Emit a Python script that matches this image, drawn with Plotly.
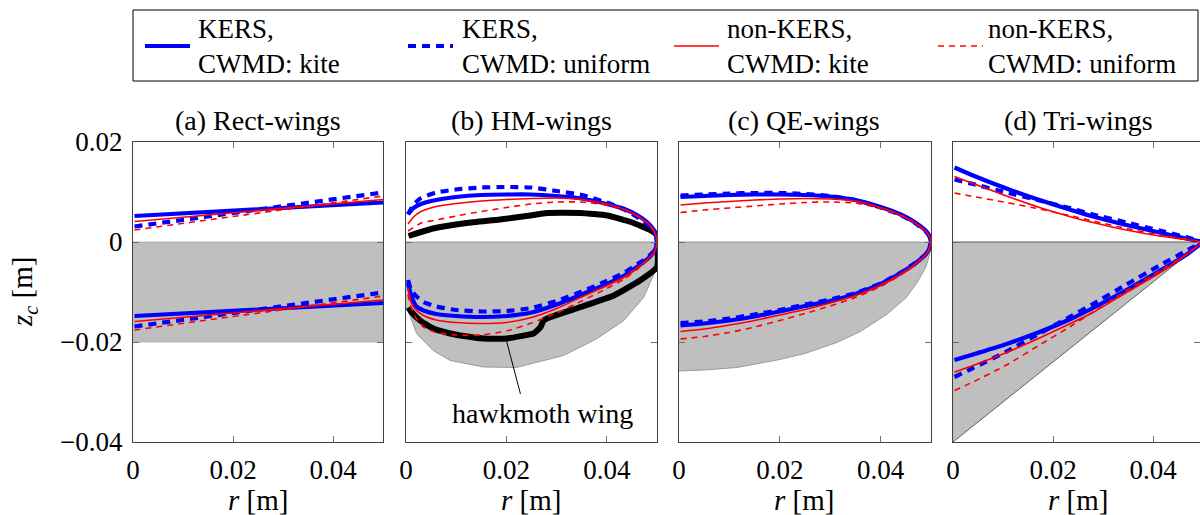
import plotly.graph_objects as go

# ---------------- data ----------------
TITLES = ["(a) Rect-wings", "(b) HM-wings", "(c) QE-wings", "(d) Tri-wings"]
SERIES = ["KERS,<br>CWMD: kite", "KERS,<br>CWMD: uniform", "non-KERS,<br>CWMD: kite", "non-KERS,<br>CWMD: uniform"]
X_TICKS = [0, 0.02, 0.04]
X_TICK_TEXT = ["0", "0.02", "0.04"]
Y_TICKS = [-0.04, -0.02, 0, 0.02]
Y_TICK_TEXT = ["\u22120.04", "\u22120.02", "0", "0.02"]

# (a) rectangular wing
RECT_WING_X = [0, 0.05, 0.05, 0]
RECT_WING_Y = [0, 0, -0.02, -0.02]
RECT_R = [0.0003, 0.05]
RECT_LE = [[0.0052, 0.0079], [0.0031, 0.0099], [0.0041, 0.0085], [0.0024, 0.0092]]
RECT_TE = [[-0.0148, -0.0122], [-0.0169, -0.0101], [-0.0159, -0.0116], [-0.0176, -0.0108]]

# (b) hawkmoth-like wing
HM_WING_X = [0, 0.05, 0.05, 0.0474, 0.0434, 0.0381, 0.0314, 0.0248, 0.022, 0.0154, 0.0088, 0.0054, 0.0021, 0.0004, 0]
HM_WING_Y = [0, 0, -0.005, -0.011, -0.0157, -0.0193, -0.0227, -0.0243, -0.0251, -0.025, -0.0237, -0.0217, -0.0183, -0.0137, -0.013]
HAWKMOTH_X = [0.0005, 0.0054, 0.0121, 0.0187, 0.0248, 0.0281, 0.0348, 0.0401, 0.0448, 0.0488, 0.05, 0.05,
              0.0466, 0.0414, 0.0348, 0.0288, 0.0274, 0.0268, 0.0258, 0.0254, 0.0201, 0.0155, 0.0108, 0.0088,
              0.0054, 0.0028, 0.0011, 0.0005]
HAWKMOTH_Y = [0.0012, 0.0027, 0.0038, 0.0045, 0.0053, 0.0058, 0.0058, 0.0053, 0.004, 0.0023, 0.0013, -0.005,
              -0.0077, -0.0107, -0.013, -0.015, -0.0157, -0.017, -0.018, -0.0183, -0.0193, -0.0193, -0.0187, -0.0183,
              -0.0173, -0.0157, -0.014, -0.0131]
HM_R_LE = [0.0004, 0.0015, 0.003, 0.006, 0.01, 0.015, 0.02, 0.025, 0.03, 0.035, 0.04, 0.0435, 0.046, 0.048, 0.0493, 0.0498, 0.05]
HM_LE = [
    [0.0056, 0.0068, 0.0076, 0.0084, 0.0090, 0.0094, 0.0095, 0.0095, 0.0092, 0.0087, 0.0076, 0.0066, 0.0054, 0.0040, 0.0025, 0.0014, 0.0],
    [0.0055, 0.0075, 0.0088, 0.0099, 0.0105, 0.0109, 0.0110, 0.0109, 0.0102, 0.0094, 0.0079, 0.0065, 0.0050, 0.0036, 0.0022, 0.0012, 0.0],
    [0.0036, 0.0050, 0.0061, 0.0071, 0.0077, 0.0082, 0.0085, 0.0087, 0.0088, 0.0085, 0.0076, 0.0065, 0.0053, 0.0039, 0.0024, 0.0013, 0.0],
    [0.0022, 0.0029, 0.0038, 0.0044, 0.0052, 0.0061, 0.0069, 0.0076, 0.0080, 0.0080, 0.0074, 0.0064, 0.0052, 0.0038, 0.0023, 0.0013, 0.0],
]
HM_R_TE = [0.0004, 0.001, 0.002, 0.0035, 0.006, 0.01, 0.015, 0.02, 0.025, 0.03, 0.035, 0.04, 0.0435, 0.046, 0.048, 0.0493, 0.0498, 0.05]
HM_TE = [
    [-0.0082, -0.0106, -0.0128, -0.0137, -0.0144, -0.0148, -0.0150, -0.0148, -0.0141, -0.0125, -0.0105, -0.0084, -0.0067, -0.0050, -0.0035, -0.0021, -0.0011, 0.0],
    [-0.0076, -0.0095, -0.0108, -0.0120, -0.0129, -0.0136, -0.0139, -0.0138, -0.0132, -0.0118, -0.0099, -0.0078, -0.0061, -0.0045, -0.0032, -0.0019, -0.0010, 0.0],
    [-0.0092, -0.0120, -0.0136, -0.0147, -0.0156, -0.0161, -0.0163, -0.0161, -0.0151, -0.0133, -0.0110, -0.0087, -0.0070, -0.0052, -0.0036, -0.0022, -0.0011, 0.0],
    [-0.0105, -0.0130, -0.0152, -0.0170, -0.0181, -0.0186, -0.0186, -0.0178, -0.0162, -0.0142, -0.0118, -0.0093, -0.0074, -0.0055, -0.0038, -0.0023, -0.0012, 0.0],
]

# (c) quarter-elliptic wing
QE_WING_X = [0, 0.05, 0.0498, 0.049, 0.0472, 0.045, 0.0412, 0.036, 0.0313, 0.025, 0.02, 0.0115, 0.005, 0]
QE_WING_Y = [0, 0, -0.0023, -0.005, -0.0082, -0.0112, -0.0145, -0.0179, -0.0201, -0.0223, -0.0235, -0.0251, -0.0256, -0.0258]
QE_R = [0.0003, 0.005, 0.01, 0.015, 0.02, 0.025, 0.03, 0.035, 0.04, 0.044, 0.047, 0.049, 0.0497, 0.05]
QE_LE = [
    [0.0090, 0.0092, 0.0094, 0.0095, 0.0095, 0.0094, 0.0091, 0.0084, 0.0070, 0.0055, 0.0038, 0.0022, 0.0011, 0.0],
    [0.0093, 0.0095, 0.0097, 0.0098, 0.0098, 0.0096, 0.0092, 0.0084, 0.0069, 0.0054, 0.0037, 0.0021, 0.0011, 0.0],
    [0.0074, 0.0078, 0.0081, 0.0084, 0.0086, 0.0087, 0.0086, 0.0082, 0.0069, 0.0054, 0.0037, 0.0021, 0.0011, 0.0],
    [0.0059, 0.0064, 0.0068, 0.0072, 0.0076, 0.0079, 0.0080, 0.0078, 0.0067, 0.0053, 0.0037, 0.0021, 0.0011, 0.0],
]
QE_TE = [
    [-0.0167, -0.0163, -0.0157, -0.0149, -0.0139, -0.0128, -0.0118, -0.0104, -0.0084, -0.0062, -0.0042, -0.0024, -0.0012, 0.0],
    [-0.0162, -0.0159, -0.0153, -0.0145, -0.0136, -0.0125, -0.0115, -0.0102, -0.0083, -0.0061, -0.0041, -0.0024, -0.0012, 0.0],
    [-0.0179, -0.0174, -0.0166, -0.0157, -0.0146, -0.0135, -0.0122, -0.0107, -0.0086, -0.0064, -0.0043, -0.0025, -0.0012, 0.0],
    [-0.0194, -0.0189, -0.0181, -0.0170, -0.0157, -0.0143, -0.0128, -0.0111, -0.0089, -0.0066, -0.0044, -0.0026, -0.0013, 0.0],
]

# (d) triangular wing
TRI_WING_X = [0, 0.05, 0]
TRI_WING_Y = [0, 0, -0.04]
TRI_R = [0.0003, 0.004, 0.0107, 0.0173, 0.0233, 0.028, 0.0347, 0.0413, 0.0466, 0.05]
TRI_LE = [
    [0.0149, 0.0133, 0.0107, 0.0084, 0.0065, 0.0051, 0.0034, 0.0019, 0.0007, 0.0],
    [0.0125, 0.0116, 0.0099, 0.0083, 0.0068, 0.0055, 0.0039, 0.0023, 0.0010, 0.0],
    [0.0131, 0.0117, 0.0092, 0.0069, 0.0051, 0.0039, 0.0024, 0.0012, 0.0005, 0.0],
    [0.0098, 0.0091, 0.0079, 0.0066, 0.0053, 0.0042, 0.0027, 0.0014, 0.0006, 0.0],
]
TRI_TE = [
    [-0.0236, -0.0225, -0.0204, -0.0180, -0.0155, -0.0132, -0.0096, -0.0058, -0.0026, 0.0],
    [-0.0270, -0.0252, -0.0219, -0.0183, -0.0150, -0.0124, -0.0085, -0.0047, -0.0018, 0.0],
    [-0.0260, -0.0247, -0.0221, -0.0192, -0.0164, -0.0141, -0.0101, -0.0062, -0.0026, 0.0],
    [-0.0297, -0.0280, -0.0246, -0.0206, -0.0170, -0.0140, -0.0097, -0.0058, -0.0025, 0.0],
]

# ---------------- styles ----------------
W, H = 1200, 515
FONT = "Liberation Serif, DejaVu Serif, Times New Roman, serif"
COLORS = ["#0000ff", "#0000ff", "#ff0000", "#ff0000"]
WIDTHS = [4.2, 4.2, 1.6, 1.6]
DASHES = ["solid", "8px,6px", "solid", "6px,5px"]
GRAY = "#bfbfbf"

X_DOM_PX = [(133, 383), (406, 657), (679, 931), (953, 1200)]
X_RANGES = [[0, 0.05], [0, 0.05], [0, 0.05], [0, 0.0494]]
Y_DOM = [(H - 442) / H, (H - 142) / H]

fig = go.Figure()

panels = [
    (RECT_WING_X, RECT_WING_Y, RECT_R, RECT_LE, RECT_R, RECT_TE),
    (HM_WING_X, HM_WING_Y, HM_R_LE, HM_LE, HM_R_TE, HM_TE),
    (QE_WING_X, QE_WING_Y, QE_R, QE_LE, QE_R, QE_TE),
    (TRI_WING_X, TRI_WING_Y, TRI_R, TRI_LE, TRI_R, TRI_TE),
]
edge_cols = ["#a8a8a8", "#8a8a8a", "#8a8a8a", "#404040"]

for i, (wx, wy, rle, le, rte, te) in enumerate(panels):
    xa = "x" if i == 0 else f"x{i+1}"
    ya = "y" if i == 0 else f"y{i+1}"
    fig.add_trace(go.Scatter(x=wx, y=wy, xaxis=xa, yaxis=ya, mode="lines", fill="toself",
                             fillcolor=GRAY, line=dict(color=edge_cols[i], width=0.8),
                             showlegend=False, hoverinfo="skip"))
    if i == 1:
        fig.add_trace(go.Scatter(x=HAWKMOTH_X, y=HAWKMOTH_Y, xaxis=xa, yaxis=ya, mode="lines",
                                 line=dict(color="black", width=6, shape="spline", smoothing=0.4),
                                 showlegend=False))
    for s in range(4):
        for rx, ry in ((rle, le[s]), (rte, te[s])):
            fig.add_trace(go.Scatter(x=rx, y=ry, xaxis=xa, yaxis=ya, mode="lines",
                                     line=dict(color=COLORS[s], width=WIDTHS[s], dash=DASHES[s],
                                               shape="spline", smoothing=0.5),
                                     showlegend=False))

axis_common = dict(showgrid=False, zeroline=False, showline=True, linecolor="#404040", linewidth=1.2,
                   mirror="allticks", ticks="inside", ticklen=6, tickcolor="#707070", tickwidth=1,
                   tickfont=dict(family=FONT, size=27, color="black"), automargin=False, fixedrange=True)

layout = dict(width=W, height=H, margin=dict(l=0, r=0, t=0, b=0), paper_bgcolor="white",
              plot_bgcolor="white", template="none", showlegend=False,
              font=dict(family=FONT, size=27, color="black"))
for i in range(4):
    sx = "" if i == 0 else str(i + 1)
    x0, x1 = X_DOM_PX[i]
    layout["xaxis" + sx] = dict(axis_common, domain=[x0 / W, x1 / W], range=X_RANGES[i],
                                tickvals=X_TICKS, ticktext=X_TICK_TEXT, anchor="y" + sx,
                                ticklabelstandoff=3)
    layout["yaxis" + sx] = dict(axis_common, domain=Y_DOM, range=[-0.04, 0.02], tickvals=Y_TICKS,
                                ticktext=Y_TICK_TEXT, anchor="x" + sx,
                                showticklabels=(i == 0), ticklabelstandoff=4)
fig.update_layout(**layout)

ann = []
shapes = []
for i in range(4):
    x0 = X_DOM_PX[i][0]
    cx = (x0 + 125) / W
    ann.append(dict(x=cx, y=(H - 120) / H, xref="paper", yref="paper", text=TITLES[i], showarrow=False,
                    font=dict(family=FONT, size=28, color="black"), xanchor="center", yanchor="middle"))
    ann.append(dict(x=cx, y=(H - 500) / H, xref="paper", yref="paper", text="<i>r</i> [m]", showarrow=False,
                    font=dict(family=FONT, size=29, color="black"), xanchor="center", yanchor="middle"))
ann.append(dict(x=24 / W, y=(H - 292) / H, xref="paper", yref="paper", text="<i>z<sub>c</sub></i> [m]",
                showarrow=False, textangle=-90, font=dict(family=FONT, size=29, color="black"),
                xanchor="center", yanchor="middle"))
# hawkmoth label
ann.append(dict(x=0.0272, y=-0.0342, xref="x2", yref="y2", text="hawkmoth wing", showarrow=False,
                font=dict(family=FONT, size=28, color="black"), xanchor="center", yanchor="middle"))
shapes.append(dict(type="line", xref="x2", yref="y2", x0=0.0200, y0=-0.0197, x1=0.0228, y1=-0.0304,
                   line=dict(color="black", width=1)))

# legend box
shapes.append(dict(type="rect", xref="paper", yref="paper", x0=133 / W, x1=1198 / W,
                   y0=(H - 81) / H, y1=(H - 10) / H, line=dict(color="black", width=1), fillcolor="white"))
LEG_SAMPLE_X = [(145, 190), (408, 453), (674, 719), (938, 983)]
LEG_TEXT_X = [196, 460, 725, 986]
for s in range(4):
    a, b = LEG_SAMPLE_X[s]
    shapes.append(dict(type="line", xref="paper", yref="paper", x0=a / W, x1=b / W,
                       y0=(H - 46) / H, y1=(H - 46) / H,
                       line=dict(color=COLORS[s], width=WIDTHS[s], dash=DASHES[s])))
    ann.append(dict(x=LEG_TEXT_X[s] / W, y=(H - 46) / H, xref="paper", yref="paper", text=SERIES[s],
                    showarrow=False, align="left", xanchor="left", yanchor="middle",
                    font=dict(family=FONT, size=27, color="black")))

fig.update_layout(annotations=ann, shapes=shapes)
fig.write_html("out.html", config={"displayModeBar": False},
               post_script="document.body.style.margin='0';document.body.style.overflow='hidden';")
